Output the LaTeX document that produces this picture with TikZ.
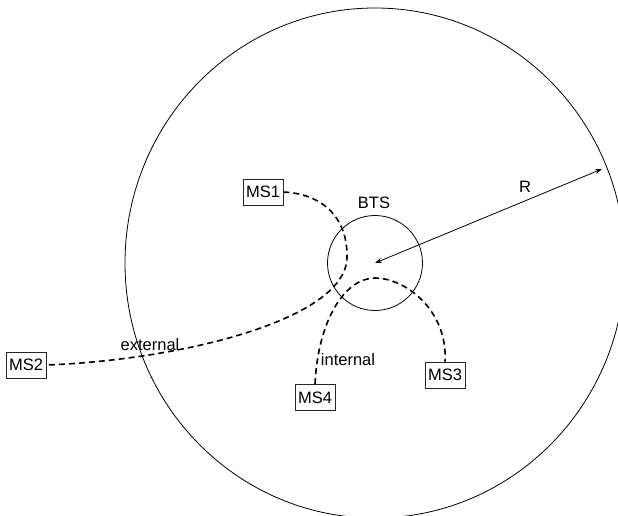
\documentclass[tikz,border=0pt]{standalone}
\usepackage{fontspec}
\setmainfont{Liberation Sans}
\usetikzlibrary{arrows.meta}
\begin{document}
\begin{tikzpicture}[x=1pt,y=-1pt,
  msbox/.style={draw=black!85,line width=0.7pt,minimum width=40pt,minimum height=26pt,inner sep=1pt,font=\fontsize{16.5}{19}\selectfont},
  lbl/.style={inner sep=0pt,font=\fontsize{16.5}{19}\selectfont},
  link/.style={line width=1.6pt,dash pattern=on 6pt off 4pt},
  thin/.style={line width=0.8pt}]
\useasboundingbox (0,0) rectangle (618,515);
\clip (0,0) rectangle (618,515);
% big cell
\draw[thin] (375,263) ellipse [x radius=250, y radius=255];
% BTS circle
\node[draw,thin,circle,minimum size=95pt,inner sep=0pt] (bts) at (375,263) {};
\node[lbl] (btslbl) at (374,203) {BTS};
% radius arrow
\coordinate (redge) at (602,169);
\draw[thin,{Stealth[length=7pt,width=5pt]}-{Stealth[length=7pt,width=5pt]}] (bts.center) -- (redge);
\node[lbl] (rlbl) at (525,187) {R};
% mobile stations
\node[msbox] (ms1) at (263,192) {MS1};
\node[msbox] (ms2) at (26,365) {MS2};
\node[msbox] (ms3) at (445,375) {MS3};
\node[msbox] (ms4) at (315,397.5) {MS4};
% external path
\draw[link] (ms1.east) .. controls (325,194) and (348,220) .. (347,258)
  .. controls (345,320) and (180,360) .. (ms2.east);
\node[lbl] (extlbl) at (150,345) {external};
% internal path
\draw[link] (ms4.north) .. controls (318,320) and (345,278) .. (375,278)
  .. controls (405,278) and (448,310) .. (ms3.north);
\node[lbl] (intlbl) at (348,360) {internal};
\end{tikzpicture}
\end{document}
